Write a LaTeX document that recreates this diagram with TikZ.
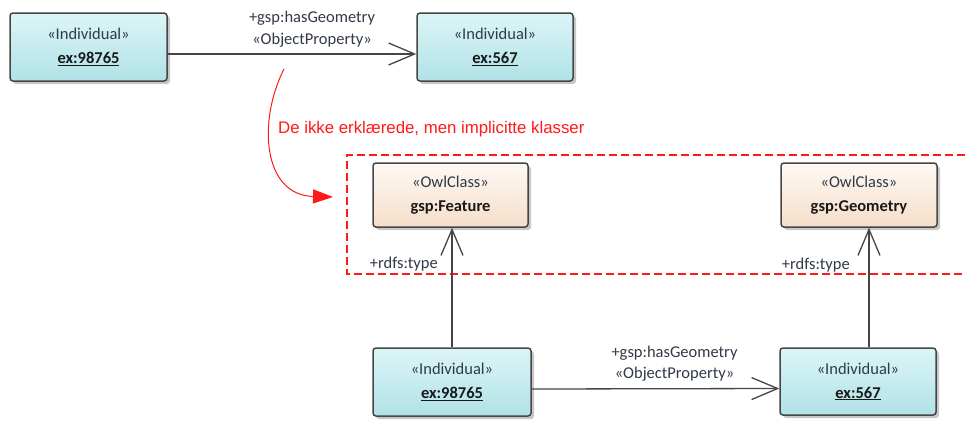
\documentclass[tikz,border=0pt]{standalone}
\usepackage{fontspec}
\setmainfont{Carlito}
\newfontfamily\notefont{Liberation Sans}
\usetikzlibrary{arrows.meta,shadows,calc}

\definecolor{indtop}{RGB}{220,245,247}
\definecolor{indbot}{RGB}{176,226,231}
\definecolor{clstop}{RGB}{254,249,244}
\definecolor{clsbot}{RGB}{245,222,201}
\definecolor{edgegray}{RGB}{70,70,70}
\definecolor{stereocol}{RGB}{50,58,72}
\definecolor{namecol}{RGB}{25,25,25}
\definecolor{notered}{RGB}{255,25,25}

\tikzset{
  umlbox/.style={draw=edgegray, line width=1.5pt, rounded corners=3pt,
    align=center, inner sep=0pt, text=stereocol,
    font=\fontsize{16.5}{24}\selectfont,
    drop shadow={shadow xshift=3pt, shadow yshift=-3pt, opacity=0.22, fill=black}},
  individual/.style={umlbox, top color=indtop, bottom color=indbot,
    minimum width=157pt, minimum height=68pt},
  owlclass/.style={umlbox, top color=clstop, bottom color=clsbot,
    minimum width=156pt, minimum height=64pt},
  conn/.style={draw=edgegray, line width=1.3pt},
  opentip/.style={-{Straight Barb[length=26pt,width=22pt]}},
  lbl/.style={font=\fontsize{16.5}{20}\selectfont, text=stereocol, inner sep=0pt},
  region/.style={draw=notered, line width=1.8pt, dash pattern=on 8pt off 4pt},
  notearrow/.style={draw=notered, line width=1pt, -{Triangle[length=20pt,width=14pt]}},
}

\begin{document}
\begin{tikzpicture}[x=1pt, y=-1pt]
  \fill[white] (0,0) rectangle (965,421);
  \useasboundingbox (0,0) rectangle (965,421);

  % implicit classes region (open on the right)
  \draw[region] (965,155) -- (347,155) -- (347,274) -- (965,274);

  % individuals, first pair
  \node[individual] (srcA) at (88.5,47) {«Individual»\\{\bfseries\color{namecol}\underline{ex:98765}}};
  \node[individual, minimum width=156pt] (dstA) at (495,47) {«Individual»\\{\bfseries\color{namecol}\underline{ex:567}}};

  \draw[conn, opentip] ([yshift=-7pt]srcA.east) -- ([yshift=-7pt]dstA.west);
  \node[lbl] (propA1) at ($(srcA.east)!0.5!(dstA.west)+(20,-29)$) {+gsp:hasGeometry};
  \node[lbl] (propA2) at ($(srcA.east)!0.5!(dstA.west)+(20,-7)$) {«ObjectProperty»};

  % classes
  \node[owlclass, minimum width=155pt] (feat) at (450.5,195) {«OwlClass»\\{\bfseries\color{namecol}gsp:Feature}};
  \node[owlclass] (geo) at (859,195) {«OwlClass»\\{\bfseries\color{namecol}gsp:Geometry}};

  % individuals, second pair
  \node[individual, minimum width=158pt] (srcB) at (452,382) {«Individual»\\{\bfseries\color{namecol}\underline{ex:98765}}};
  \node[individual, minimum width=156pt, minimum height=67pt] (dstB) at (858,381.5) {«Individual»\\{\bfseries\color{namecol}\underline{ex:567}}};

  \draw[conn, opentip] ([yshift=-7pt]srcB.east) -- ([yshift=-7pt]dstB.west);
  \node[lbl] (propB1) at ($(srcB.east)!0.5!(dstB.west)+(19,-29)$) {+gsp:hasGeometry};
  \node[lbl] (propB2) at ($(srcB.east)!0.5!(dstB.west)+(19,-8)$) {«ObjectProperty»};

  % rdf:type links
  \coordinate (featline) at (srcB.north);
  \coordinate (geoline) at ([xshift=11pt]dstB.north);
  \draw[conn, opentip] (featline) -- (featline |- feat.south);
  \draw[conn, opentip] (geoline) -- (geoline |- geo.south);
  \node[lbl, anchor=east] (typeA) at ($(featline |- feat.south)+(-14,36)$) {+rdfs:type};
  \node[lbl, anchor=east] (typeB) at ($(geoline |- geo.south)+(-19,37)$) {+rdfs:type};

  % note
  \node[anchor=west, inner sep=0pt, text=notered,
        font=\notefont\fontsize{16.8}{20}\selectfont] (note) at (278,129)
        {De ikke erklærede, men implicitte klasser};
  \coordinate (notestart) at (284,69);
  \coordinate (notetip) at (333,197);
  \draw[notearrow] (notestart) .. controls (258,120) and (262,195) .. (notetip);
\end{tikzpicture}
\end{document}
